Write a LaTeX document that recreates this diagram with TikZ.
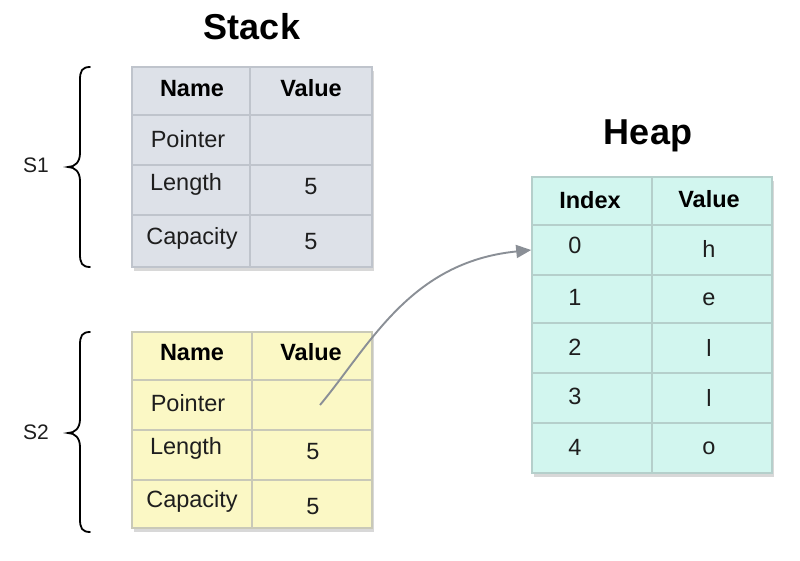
\documentclass[tikz,border=0pt]{standalone}
\usepackage{fontspec}
\setmainfont{Liberation Sans}
\usetikzlibrary{arrows.meta,shadows}
\definecolor{stackfill}{HTML}{DDE1E8}
\definecolor{stackline}{HTML}{BFC4CC}
\definecolor{s2fill}{HTML}{FBF8C5}
\definecolor{s2line}{HTML}{C9C9B8}
\definecolor{heapfill}{HTML}{D2F6EF}
\definecolor{heapline}{HTML}{B5CFCB}
\definecolor{txtcol}{HTML}{1E1E1E}
\definecolor{arrowcol}{HTML}{8A8F96}
\begin{document}
\begin{tikzpicture}[x=1pt,y=-1pt,
  cell/.style={draw, line width=1.6pt, inner sep=0pt, minimum width=#1},
  tbl/.style={line width=0pt, drop shadow={shadow xshift=2pt, shadow yshift=-4pt, opacity=0.3}},
  hdr/.style={font=\fontsize{23.5}{26}\selectfont\bfseries, text=black, inner sep=0pt},
  txt/.style={font=\fontsize{23.5}{26}\selectfont, text=txtcol, inner sep=0pt},
  title/.style={font=\fontsize{36}{40}\selectfont\bfseries, text=black, inner sep=0pt},
  side/.style={font=\fontsize{21}{24}\selectfont, text=txtcol, inner sep=0pt},
  bracepath/.style={line width=1.8pt, black, line cap=round},
  link/.style={draw=arrowcol, line width=1.9pt, -{Triangle[length=15pt,width=13pt]}}
]
\useasboundingbox (0,0) rectangle (800,561);
\fill[white] (0,0) rectangle (800,561);

% titles
\node[title] (stacktitle) at (252,27) {Stack};
\node[title] (heaptitle) at (648,136) {Heap};

% table backgrounds with shadows
\path[tbl, fill=stackfill] (132,67) rectangle (372,267);
\path[tbl, fill=s2fill] (132,332) rectangle (372,528);
\path[tbl, fill=heapfill] (532,177) rectangle (772,473);

% S1 cells
\begin{scope}[every node/.style={cell=118pt, draw=stackline, fill=stackfill}]
\node[minimum height=48pt] (a11) at (191,91) {};
\node[minimum height=50pt] (a21) at (191,140) {};
\node[minimum height=50pt] (a31) at (191,190) {};
\node[minimum height=52pt] (a41) at (191,241) {};
\end{scope}
\begin{scope}[every node/.style={cell=122pt, draw=stackline, fill=stackfill}]
\node[minimum height=48pt] (a12) at (311,91) {};
\node[minimum height=50pt] (a22) at (311,140) {};
\node[minimum height=50pt] (a32) at (311,190) {};
\node[minimum height=52pt] (a42) at (311,241) {};
\end{scope}
\node[hdr] (a11t) at (192,89) {Name};
\node[hdr] (a12t) at (311,88) {Value};
\node[txt] (a21t) at (188,139) {Pointer};
\node[txt] (a31t) at (186,184) {Length};
\node[txt] (a32t) at (311,187) {5};
\node[txt] (a41t) at (192,238) {Capacity};
\node[txt] (a42t) at (311,242) {5};

% S2 cells
\begin{scope}[every node/.style={cell=120pt, draw=s2line, fill=s2fill}]
\node[minimum height=48pt] (b11) at (192,356) {};
\node[minimum height=50pt] (b21) at (192,405) {};
\node[minimum height=50pt] (b31) at (192,455) {};
\node[minimum height=48pt] (b41) at (192,504) {};
\end{scope}
\begin{scope}[every node/.style={cell=120pt, draw=s2line, fill=s2fill}]
\node[minimum height=48pt] (b12) at (312,356) {};
\node[minimum height=50pt] (b22) at (312,405) {};
\node[minimum height=50pt] (b32) at (312,455) {};
\node[minimum height=48pt] (b42) at (312,504) {};
\end{scope}
\node[hdr] (b11t) at (192,353) {Name};
\node[hdr] (b12t) at (311,352) {Value};
\node[txt] (b21t) at (188,403) {Pointer};
\node[txt] (b31t) at (186,448) {Length};
\node[txt] (b32t) at (313,452) {5};
\node[txt] (b41t) at (192,501) {Capacity};
\node[txt] (b42t) at (313,507) {5};
\coordinate (ptr) at (320,405);

% Heap cells
\begin{scope}[every node/.style={cell=120pt, draw=heapline, fill=heapfill}]
\node[minimum height=48pt] (h01) at (592,201) {};
\node[minimum height=50pt] (h11) at (592,250) {};
\node[minimum height=48pt] (h21) at (592,299) {};
\node[minimum height=50pt] (h31) at (592,348) {};
\node[minimum height=50pt] (h41) at (592,398) {};
\node[minimum height=50pt] (h51) at (592,448) {};
\node[minimum height=48pt] (h02) at (712,201) {};
\node[minimum height=50pt] (h12) at (712,250) {};
\node[minimum height=48pt] (h22) at (712,299) {};
\node[minimum height=50pt] (h32) at (712,348) {};
\node[minimum height=50pt] (h42) at (712,398) {};
\node[minimum height=50pt] (h52) at (712,448) {};
\end{scope}
\node[hdr] (h01t) at (590,200) {Index};
\node[hdr] (h02t) at (709,199) {Value};
\node[txt] (h11t) at (575,245) {0};
\node[txt] (h12t) at (709,249) {h};
\node[txt] (h21t) at (575,297) {1};
\node[txt] (h22t) at (709,299) {e};
\node[txt] (h31t) at (575,347) {2};
\node[txt] (h32t) at (709,348) {l};
\node[txt] (h41t) at (575,396) {3};
\node[txt] (h42t) at (709,398) {l};
\node[txt] (h51t) at (575,447) {4};
\node[txt] (h52t) at (709,448) {o};

% braces
\draw[bracepath] (90,67) .. controls (82,67) and (80,71) .. (80,80) -- (80,153)
  .. controls (80,162) and (75,167) .. (68,167)
  .. controls (75,167) and (80,172) .. (80,181) -- (80,254)
  .. controls (80,263) and (82,267) .. (90,267);
\draw[bracepath] (90,332) .. controls (82,332) and (80,336) .. (80,345) -- (80,419)
  .. controls (80,428) and (75,433) .. (68,433)
  .. controls (75,433) and (80,438) .. (80,447) -- (80,519)
  .. controls (80,528) and (82,532) .. (90,532);
\node[side] (s1) at (36,165) {S1};
\node[side] (s2) at (36,432) {S2};

% pointer arrow
\draw[link] (ptr) .. controls (370,345) and (410,262) .. (h11.west);
\end{tikzpicture}
\end{document}
